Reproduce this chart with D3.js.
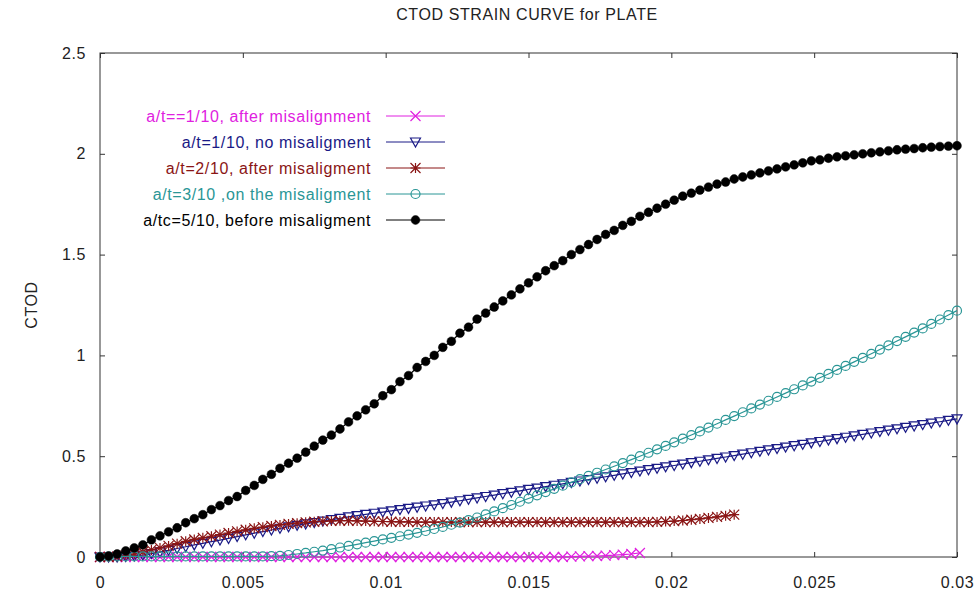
<!DOCTYPE html>
<html>
<head>
<meta charset="utf-8">
<script src="https://cdn.jsdelivr.net/npm/d3@7"></script>
<style>
  body { margin: 0; background: #fff; }
  svg { display: block; font-family: 'Liberation Sans', Arial, sans-serif; }
</style>
</head>
<body>
<svg id="chart" width="978" height="596"></svg>
<script>
// strain values where each curve was sampled
const strain = [
  0, 0.0003, 0.0006, 0.0009, 0.0012, 0.0015, 0.0018, 0.0021, 0.0024, 0.0027,
  0.003, 0.0033, 0.0036, 0.0039, 0.0042, 0.0045, 0.0048, 0.0051, 0.0054, 0.0057,
  0.006, 0.0063, 0.0066, 0.0069, 0.0072, 0.0075, 0.0078, 0.0081, 0.0084, 0.0087,
  0.009, 0.0093, 0.0096, 0.0099, 0.0102, 0.0105, 0.0108, 0.0111, 0.0114, 0.0117,
  0.012, 0.0123, 0.0126, 0.0129, 0.0132, 0.0135, 0.0138, 0.0141, 0.0144, 0.0147,
  0.015, 0.0153, 0.0156, 0.0159, 0.0162, 0.0165, 0.0168, 0.0171, 0.0174, 0.0177,
  0.018, 0.0183, 0.0186, 0.0189, 0.0192, 0.0195, 0.0198, 0.0201, 0.0204, 0.0207,
  0.021, 0.0213, 0.0216, 0.0219, 0.0222, 0.0225, 0.0228, 0.0231, 0.0234, 0.0237,
  0.024, 0.0243, 0.0246, 0.0249, 0.0252, 0.0255, 0.0258, 0.0261, 0.0264, 0.0267,
  0.027, 0.0273, 0.0276, 0.0279, 0.0282, 0.0285, 0.0288, 0.0291, 0.0294, 0.0297, 0.03
]

const ctodAfter110 = [
  0, 0, 0, 0, 0, 0, 0, 0, 0, 0,
  0, 0, 0, 0, 0, 0, 0, 0, 0, 0,
  0, 0, 0, 0, 0, 0, 0, 0, 0, 0,
  0, 0, 0, 0, 0, 0, 0, 0, 0, 0,
  0, 0, 0, 0, 0, 0, 0, 0, 0, 0,
  0, 0, 0, 0, 0, 0.002, 0.003, 0.004, 0.005, 0.007,
  0.009, 0.012, 0.015, 0.02
]

const ctodNo110 = [
  0, 0, 0, 0.002, 0.005, 0.01, 0.017, 0.025, 0.033, 0.042,
  0.051, 0.06, 0.068, 0.076, 0.084, 0.092, 0.101, 0.11, 0.118, 0.126,
  0.134, 0.142, 0.15, 0.157, 0.164, 0.171, 0.178, 0.185, 0.192, 0.199,
  0.205, 0.211, 0.217, 0.223, 0.229, 0.235, 0.241, 0.247, 0.253, 0.259,
  0.265, 0.272, 0.279, 0.286, 0.293, 0.3, 0.307, 0.314, 0.321, 0.328,
  0.335, 0.342, 0.349, 0.356, 0.363, 0.37, 0.377, 0.384, 0.391, 0.398,
  0.405, 0.412, 0.419, 0.426, 0.433, 0.44, 0.447, 0.454, 0.461, 0.468,
  0.475, 0.482, 0.489, 0.496, 0.503, 0.51, 0.517, 0.524, 0.531, 0.538,
  0.545, 0.552, 0.559, 0.566, 0.573, 0.58, 0.587, 0.594, 0.601, 0.608,
  0.615, 0.622, 0.629, 0.636, 0.643, 0.65, 0.657, 0.664, 0.671, 0.678, 0.685
]

const ctodAfter210 = [
  0, 0, 0.002, 0.008, 0.015, 0.025, 0.035, 0.045, 0.055, 0.066,
  0.078, 0.087, 0.095, 0.103, 0.111, 0.119, 0.127, 0.135, 0.142, 0.148,
  0.154, 0.159, 0.164, 0.168, 0.172, 0.175, 0.177, 0.179, 0.18, 0.18,
  0.179, 0.178, 0.177, 0.176, 0.175, 0.174, 0.174, 0.173, 0.173, 0.173,
  0.173, 0.173, 0.173, 0.173, 0.173, 0.173, 0.173, 0.173, 0.173, 0.173,
  0.173, 0.173, 0.173, 0.173, 0.173, 0.173, 0.173, 0.173, 0.173, 0.173,
  0.173, 0.173, 0.173, 0.173, 0.173, 0.174, 0.176, 0.178, 0.181, 0.185,
  0.189, 0.194, 0.199, 0.204, 0.21
]

const ctodOn310 = [
  0, 0.002, 0.003, 0.003, 0.003, 0.003, 0.003, 0.003, 0.003, 0.003,
  0.003, 0.003, 0.003, 0.003, 0.003, 0.003, 0.003, 0.003, 0.003, 0.003,
  0.004, 0.006, 0.01, 0.015, 0.02, 0.026, 0.032, 0.039, 0.047, 0.055,
  0.063, 0.071, 0.079, 0.087, 0.095, 0.103, 0.111, 0.12, 0.129, 0.139,
  0.149, 0.16, 0.171, 0.183, 0.196, 0.211, 0.226, 0.242, 0.258, 0.274,
  0.29, 0.306, 0.322, 0.338, 0.354, 0.37, 0.386, 0.402, 0.418, 0.434,
  0.45, 0.466, 0.483, 0.5, 0.517, 0.534, 0.551, 0.569, 0.587, 0.605,
  0.623, 0.642, 0.661, 0.68, 0.699, 0.718, 0.737, 0.756, 0.775, 0.794,
  0.813, 0.832, 0.851, 0.87, 0.889, 0.908, 0.928, 0.948, 0.968, 0.988,
  1.008, 1.029, 1.05, 1.071, 1.092, 1.113, 1.134, 1.156, 1.178, 1.2, 1.222
]

const ctodBefore510 = [
  0, 0.005, 0.015, 0.03, 0.045, 0.06, 0.085, 0.105, 0.125, 0.145,
  0.17, 0.19, 0.21, 0.235, 0.255, 0.28, 0.30, 0.33, 0.355, 0.385,
  0.41, 0.44, 0.465, 0.49, 0.52, 0.55, 0.58, 0.605, 0.635, 0.67,
  0.70, 0.73, 0.76, 0.80, 0.83, 0.87, 0.90, 0.94, 0.97, 1.00,
  1.04, 1.07, 1.11, 1.14, 1.18, 1.21, 1.24, 1.27, 1.30, 1.33,
  1.36, 1.39, 1.42, 1.445, 1.47, 1.50, 1.525, 1.55, 1.575, 1.60,
  1.62, 1.645, 1.665, 1.69, 1.71, 1.73, 1.75, 1.77, 1.79, 1.805,
  1.82, 1.835, 1.85, 1.86, 1.875, 1.885, 1.895, 1.905, 1.915, 1.925,
  1.935, 1.945, 1.955, 1.965, 1.97, 1.978, 1.985, 1.99, 1.995, 2.00,
  2.005, 2.01, 2.015, 2.02, 2.023, 2.026, 2.03, 2.033, 2.036, 2.038, 2.04
]

const seriesNames = [
  'a/t==1/10, after misalignment',
  'a/t=1/10, no misaligment',
  'a/t=2/10, after misaligment',
  'a/t=3/10 ,on the misaligment',
  'a/tc=5/10, before misaligment'
]
const seriesValues = [ctodAfter110, ctodNo110, ctodAfter210, ctodOn310, ctodBefore510]
const seriesColors = ['#e020e0', '#1a1a86', '#8a1515', '#2a9696', '#000000']
const seriesMarkers = ['cross', 'triangle', 'star', 'circle', 'dot']

const xTicks = [0, 0.005, 0.01, 0.015, 0.02, 0.025, 0.03]
const xTickLabels = ['0', '0.005', '0.01', '0.015', '0.02', '0.025', '0.03']
const yTicks = [0, 0.5, 1, 1.5, 2, 2.5]
const yTickLabels = ['0', '0.5', '1', '1.5', '2', '2.5']

const margin = { left: 100, right: 21, top: 53, bottom: 39 }
const width = 978
const height = 596
const axisColor = '#333'
const textColor = '#222'

const svg = d3.select('#chart')

const x = d3.scaleLinear()
  .domain([0, 0.03])
  .range([margin.left, width - margin.right])

const y = d3.scaleLinear()
  .domain([0, 2.5])
  .range([height - margin.bottom, margin.top])

// marker shapes, roughly like the gnuplot point types
function markerPath(type) {
  const s = 5
  if (type === 'cross') return `M${-s},${-s}L${s},${s}M${-s},${s}L${s},${-s}`
  if (type === 'triangle') return `M${-s},${-4}L${s},${-4}L0,${5}Z`
  if (type === 'star') return `M${-s},${-s}L${s},${s}M${-s},${s}L${s},${-s}M0,${-s}L0,${s}M${-s},0L${s},0`
  if (type === 'circle') return d3.arc()({ innerRadius: 0, outerRadius: 4.5, startAngle: 0, endAngle: 2 * Math.PI })
  return d3.arc()({ innerRadius: 0, outerRadius: 4.4, startAngle: 0, endAngle: 2 * Math.PI })
}

function drawMarker(g, type, color) {
  g.append('path')
    .attr('d', markerPath(type))
    .attr('fill', type === 'dot' ? color : 'none')
    .attr('stroke', color)
    .attr('stroke-width', type === 'dot' ? 0.5 : 1.2)
}

// title and axis title
svg.append('text')
  .attr('x', 527)
  .attr('y', 20)
  .attr('text-anchor', 'middle')
  .attr('font-size', 16)
  .attr('letter-spacing', 0.6)
  .attr('fill', textColor)
  .text('CTOD STRAIN CURVE for PLATE')

svg.append('text')
  .attr('transform', `translate(37, ${(margin.top + height - margin.bottom) / 2}) rotate(-90)`)
  .attr('text-anchor', 'middle')
  .attr('font-size', 16)
  .attr('letter-spacing', 0.6)
  .attr('fill', textColor)
  .text('CTOD')

// axes with ticks pointing inward, mirrored on top and right
const gx = svg.append('g')
  .attr('transform', `translate(0, ${height - margin.bottom})`)
  .call(d3.axisBottom(x).tickValues(xTicks).tickSize(-5).tickPadding(20)
    .tickFormat((d, i) => xTickLabels[i]))
const gy = svg.append('g')
  .attr('transform', `translate(${margin.left}, 0)`)
  .call(d3.axisLeft(y).tickValues(yTicks).tickSize(-5).tickPadding(14)
    .tickFormat((d, i) => yTickLabels[i]))
const gt = svg.append('g')
  .attr('transform', `translate(0, ${margin.top})`)
  .call(d3.axisTop(x).tickValues(xTicks).tickSize(-5).tickFormat(''))
const gr = svg.append('g')
  .attr('transform', `translate(${width - margin.right}, 0)`)
  .call(d3.axisRight(y).tickValues(yTicks).tickSize(-5).tickFormat(''))

for (let g of [gx, gy, gt, gr]) {
  g.select('.domain').remove()
  g.selectAll('line').attr('stroke', axisColor)
  g.selectAll('text')
    .attr('font-family', "'Liberation Sans', Arial, sans-serif")
    .attr('font-size', 16)
    .attr('letter-spacing', 0.6)
    .attr('fill', textColor)
}

svg.append('rect')
  .attr('x', margin.left)
  .attr('y', margin.top)
  .attr('width', width - margin.left - margin.right)
  .attr('height', height - margin.top - margin.bottom)
  .attr('fill', 'none')
  .attr('stroke', axisColor)
  .attr('stroke-width', 1)

// curves, drawn in the same order as the legend
const line = d3.line()
  .x(d => x(d.strain))
  .y(d => y(d.ctod))

seriesValues.forEach((values, k) => {
  const data = values.map((v, i) => ({ strain: strain[i], ctod: v }))
  const g = svg.append('g').attr('class', 'series')

  g.append('path')
    .datum(data)
    .attr('d', line)
    .attr('fill', 'none')
    .attr('stroke', seriesColors[k])
    .attr('stroke-width', 1.2)

  g.selectAll('g.pt')
    .data(data)
    .enter()
      .append('g')
      .attr('class', 'pt')
      .attr('transform', d => `translate(${x(d.strain)}, ${y(d.ctod)})`)
      .each(function () { drawMarker(d3.select(this), seriesMarkers[k], seriesColors[k]) })
})

// legend
const legend = { textRight: 371, lineStart: 386, lineEnd: 445, top: 116, step: 26 }
seriesNames.forEach((name, k) => {
  const ly = legend.top + k * legend.step
  const g = svg.append('g').attr('class', 'legend-item')
  g.append('text')
    .attr('x', legend.textRight)
    .attr('y', ly)
    .attr('dy', '0.35em')
    .attr('text-anchor', 'end')
    .attr('font-size', 16)
    .attr('letter-spacing', 0.6)
    .attr('fill', seriesColors[k])
    .text(name)
  g.append('line')
    .attr('x1', legend.lineStart)
    .attr('x2', legend.lineEnd)
    .attr('y1', ly)
    .attr('y2', ly)
    .attr('stroke', seriesColors[k])
  const m = g.append('g')
    .attr('transform', `translate(${(legend.lineStart + legend.lineEnd) / 2}, ${ly})`)
  drawMarker(m, seriesMarkers[k], seriesColors[k])
})
</script>
</body>
</html>
